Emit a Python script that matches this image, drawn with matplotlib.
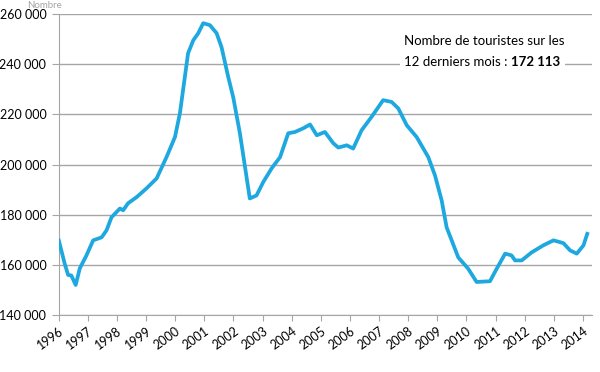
import matplotlib
matplotlib.use("Agg")
import matplotlib.pyplot as plt
from matplotlib.ticker import FuncFormatter

# tourists over the last 12 months
years = [1996.0, 1996.2, 1996.32, 1996.43, 1996.58, 1996.72, 1996.95, 1997.18, 1997.47, 1997.64,
         1997.81, 1998.1, 1998.21, 1998.38, 1998.67, 1999.01, 1999.36, 1999.7, 1999.99, 2000.16,
         2000.44, 2000.62, 2000.79, 2000.96, 2001.19, 2001.42, 2001.59, 2001.82, 2001.99, 2002.22,
         2002.56, 2002.79, 2003.02, 2003.31, 2003.6, 2003.88, 2004.11, 2004.4, 2004.63, 2004.86,
         2005.14, 2005.43, 2005.6, 2005.89, 2006.11, 2006.4, 2006.74, 2007.14, 2007.43, 2007.66,
         2007.95, 2008.29, 2008.69, 2008.92, 2009.15, 2009.32, 2009.72, 2010.06, 2010.35, 2010.81,
         2011.04, 2011.33, 2011.55, 2011.67, 2011.9, 2012.24, 2012.64, 2012.99, 2013.33, 2013.56,
         2013.79, 2014.02, 2014.15]
tourists = [169800, 160600, 156000, 155800, 152000, 158600, 163800, 169800, 171000, 173800,
            179000, 182500, 181800, 184600, 187000, 190500, 194500, 203000, 211000, 220500,
            244400, 249600, 252400, 256400, 255600, 252400, 246800, 234900, 226900, 212500,
            186500, 187700, 193000, 198500, 203000, 212500, 213000, 214500, 216000, 211700,
            213000, 208500, 206800, 207700, 206400, 213700, 219000, 225700, 225000, 222400,
            215700, 211000, 203000, 195700, 185700, 175000, 163000, 158500, 153200, 153500,
            158500, 164500, 163800, 161800, 161800, 165000, 167800, 169800, 168700, 165800,
            164500, 167800, 172400]
tick_years = list(range(1996, 2015))

def format_thousands(value, _):
    return "{:,.0f}".format(value).replace(",", " ")

plt.rcParams["font.family"] = ["Lato", "DejaVu Sans"]

fig = plt.figure(figsize=(6, 3.72), dpi=100)
ax = fig.add_axes([0.098, 0.153, 0.889, 0.809])

ax.plot(years, tourists, color="#1EA8E0", linewidth=2.7, solid_joinstyle="round", zorder=3)

ax.set_ylim(140000, 260000)
ax.set_yticks(range(140000, 260001, 20000))
ax.yaxis.set_major_formatter(FuncFormatter(format_thousands))
ax.set_xlim(1996, 2014.32)
ax.set_xticks(tick_years)
ax.set_xticklabels([str(y) for y in tick_years], rotation=36, ha="right",
                   rotation_mode="anchor", fontsize=9)

ax.grid(axis="y", color="#A6A6A6", linewidth=1)
ax.set_axisbelow(True)
for side in ["top", "right"]:
    ax.spines[side].set_visible(False)
ax.spines["left"].set_color("#A6A6A6")
ax.spines["bottom"].set_color("#A6A6A6")
ax.tick_params(axis="y", labelsize=9, length=5, color="#A6A6A6", pad=4)
ax.tick_params(axis="x", length=4, color="#A6A6A6", pad=3)

# annotation box: two lines, last number in bold
line1 = ax.text(0.648, 0.93, "Nombre de touristes sur les", transform=ax.transAxes,
                fontsize=9.5, va="top", ha="left",
                bbox=dict(facecolor="white", edgecolor="none", pad=3))
line2 = ax.text(0.648, 0.862, "12 derniers mois : ", transform=ax.transAxes,
                fontsize=9.5, va="top", ha="left",
                bbox=dict(facecolor="white", edgecolor="none", pad=3))
ax.annotate("172 113", xy=(1, 0), xycoords=line2, fontsize=9.5, fontweight="bold",
            va="bottom", ha="left",
            bbox=dict(facecolor="white", edgecolor="none", pad=3))

fig.text(0.045, 0.998, "Nombre", fontsize=7, color="#A6A6A6", ha="left", va="top")

plt.savefig("out.png", dpi=100)
